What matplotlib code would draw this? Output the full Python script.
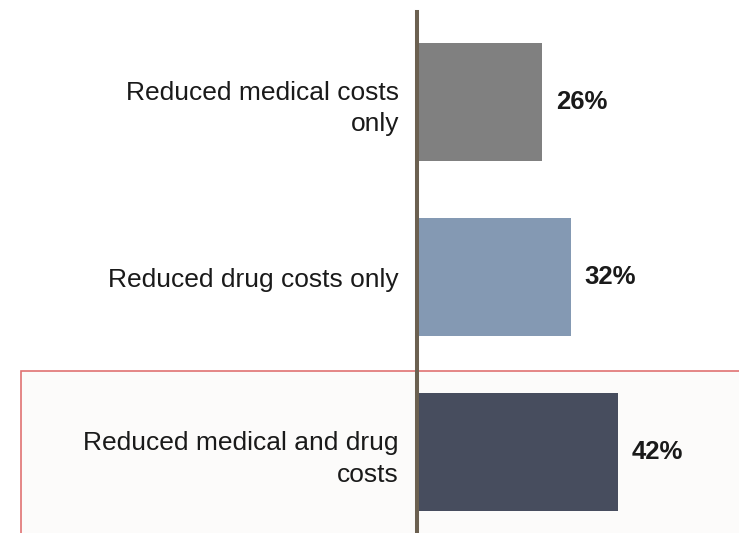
import matplotlib.pyplot as plt
from matplotlib.patches import Rectangle

plt.rcParams['font.family'] = ['Liberation Sans', 'DejaVu Sans']

categories = ['Reduced medical costs\nonly', 'Reduced drug costs only',
              'Reduced medical and drug\ncosts']
values = [26, 32, 42]
colors = ['#808080', '#8499b3', '#474d5e']

W, H = 739, 533
fig = plt.figure(figsize=(W / 100, H / 100), dpi=100)

# highlight box behind the last row
fig.patches.append(Rectangle((20.5 / W, -0.1), 1, (H - 371) / H + 0.1,
                             transform=fig.transFigure,
                             facecolor='#fcfbfa', edgecolor='#e07272', linewidth=1.2,
                             zorder=0))

ax = fig.add_axes([417 / W, 0, (W - 417) / W, (H - 12) / H])
ax.set_facecolor('none')
ax.set_zorder(2)

y = list(range(len(values)))
ax.barh(y, values, height=0.674, color=colors, left=0.5)
for yi, v in zip(y, values):
    ax.text(v + 3.3, yi, f'{v}%', va='center', ha='left', fontsize=18.5,
            fontweight='bold', color='#1a1a1a')

ax.set_xlim(0, 68)
ax.set_ylim(2.46, -0.514)
ax.set_yticks(y)
ax.set_yticklabels(categories, fontsize=19, color='#1a1a1a', ha='right',
                   linespacing=1.4)
ax.tick_params(axis='y', length=0, pad=13)
ax.set_xticks([])
for s in ['top', 'right', 'bottom']:
    ax.spines[s].set_visible(False)
ax.spines['left'].set_color('#6b6050')
ax.spines['left'].set_linewidth(2.9)

fig.savefig('out.png', dpi=100)
